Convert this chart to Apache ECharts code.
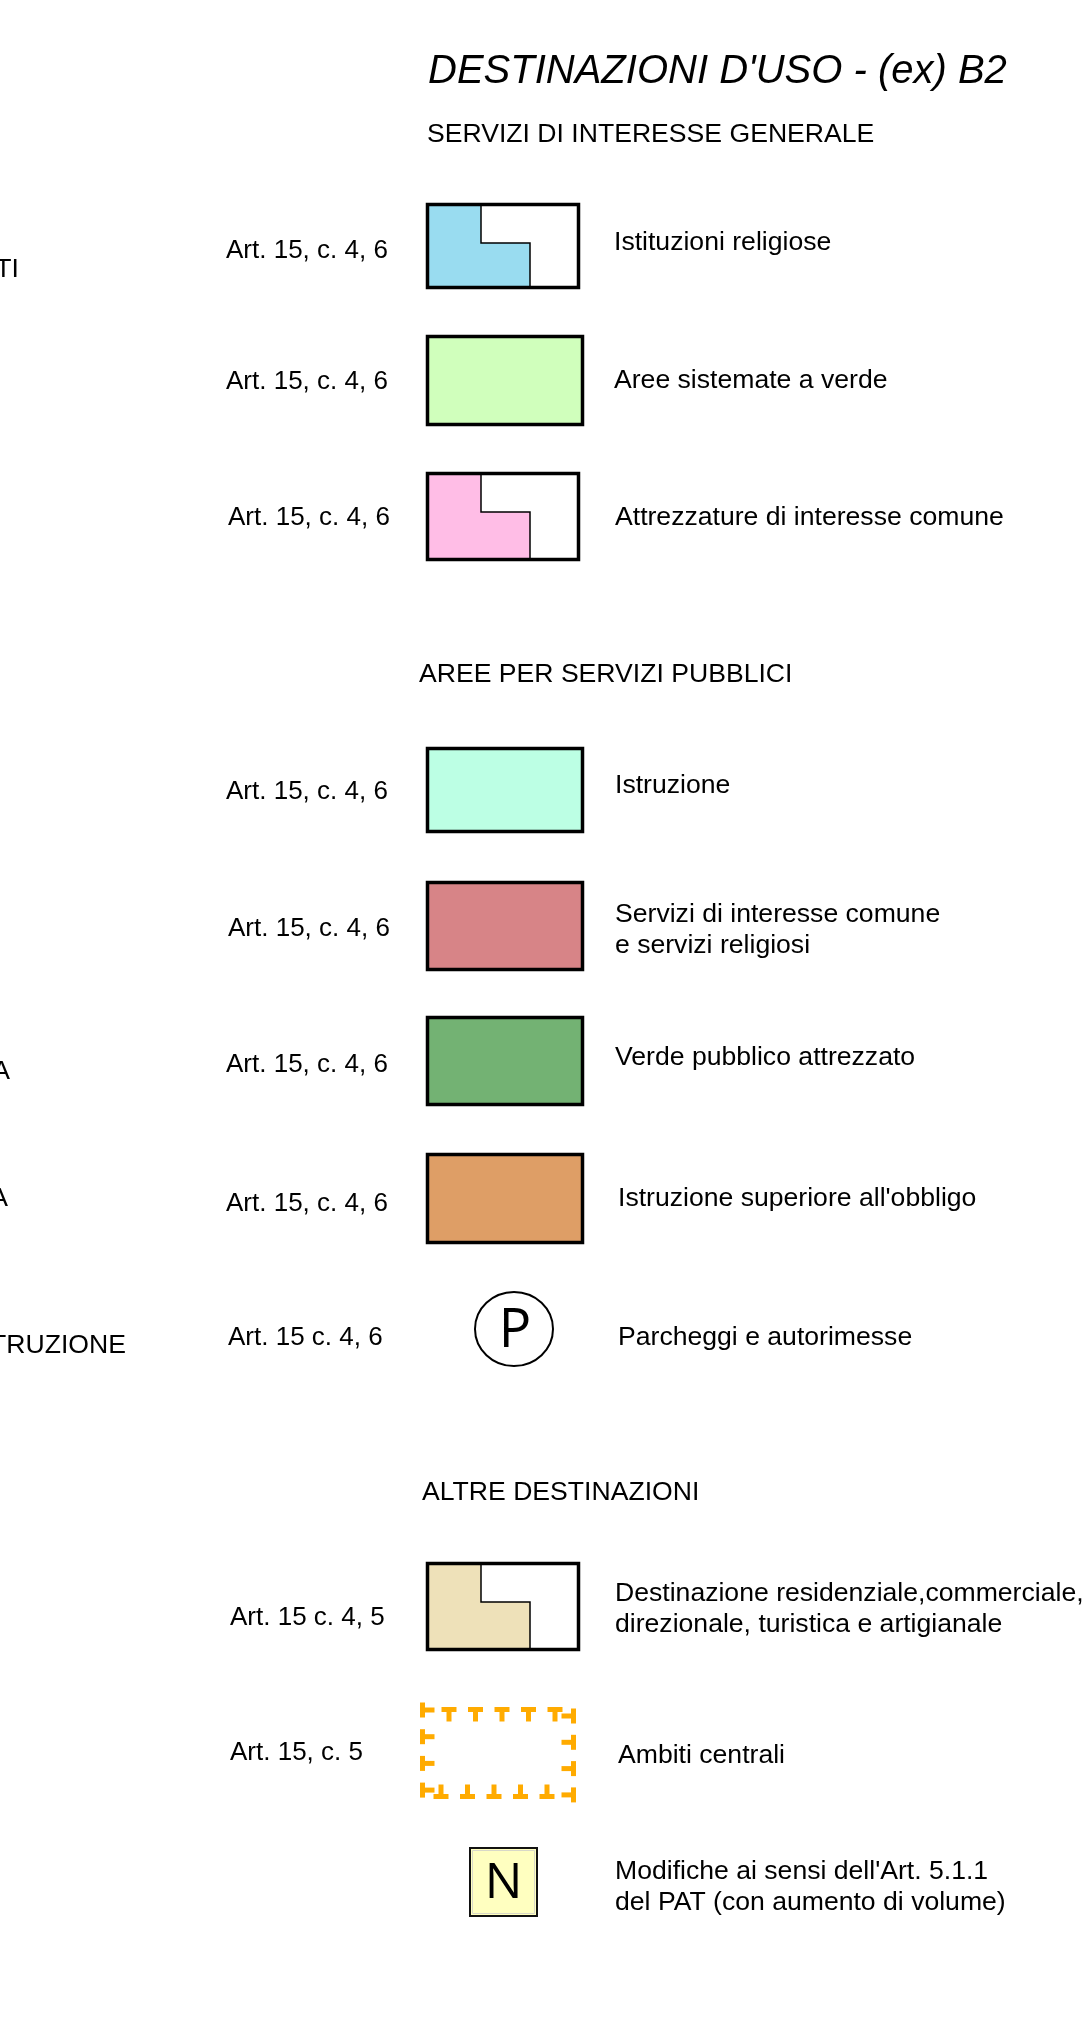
<!DOCTYPE html>
<html>
<head>
<meta charset="utf-8">
<title>Destinazioni d'uso</title>
<style>
  html, body { margin: 0; padding: 0; background: #fff; }
  #container { width: 1082px; height: 2023px; }
</style>
</head>
<body>
<div id="container"></div>
<script src="https://cdn.jsdelivr.net/npm/echarts@6/dist/echarts.min.js"></script>
<script>
// legend content
var titleText = "DESTINAZIONI D'USO - (ex) B2";
var sectionTitles = ['SERVIZI DI INTERESSE GENERALE', 'AREE PER SERVIZI PUBBLICI', 'ALTRE DESTINAZIONI'];
var articleRefs = [
  'Art. 15, c. 4, 6', 'Art. 15, c. 4, 6', 'Art. 15, c. 4, 6',
  'Art. 15, c. 4, 6', 'Art. 15, c. 4, 6', 'Art. 15, c. 4, 6', 'Art. 15, c. 4, 6', 'Art. 15 c. 4, 6',
  'Art. 15 c. 4, 5', 'Art. 15, c. 5', ''
];
var useLabels = [
  'Istituzioni religiose',
  'Aree sistemate a verde',
  'Attrezzature di interesse comune',
  'Istruzione',
  'Servizi di interesse comune\ne servizi religiosi',
  'Verde pubblico attrezzato',
  "Istruzione superiore all'obbligo",
  'Parcheggi e autorimesse',
  'Destinazione residenziale,commerciale,\ndirezionale, turistica e artigianale',
  'Ambiti centrali',
  "Modifiche ai sensi dell'Art. 5.1.1\ndel PAT (con aumento di volume)"
];
var symbolKinds = ['step', 'rect', 'step', 'rect', 'rect', 'rect', 'rect', 'parking', 'step', 'ambit', 'note'];
var symbolMarks = ['', '', '', '', '', '', '', 'P', '', '', 'N'];
// text cut off at the left edge (neighbouring column)
var edgeTexts = ['TI', 'A', 'A', 'ISTRUZIONE'];

// styles
var fillColors = ['#99dcf0', '#d0ffbc', '#ffbde6', '#bcffe4', '#d78487', '#73b273', '#de9e66', null, '#eee1b9', '#ffab00', '#ffffc0'];

// layout (pixels)
var sectionPos = [[427, 135], [419, 675], [422, 1493]];
var rowLayout = [
  { x: 426, top: 203, w: 154, h: 86, lx: 226, ly: 251, dx: 614, dy: 243 },
  { x: 426, top: 335, w: 158, h: 91, lx: 226, ly: 382, dx: 614, dy: 381 },
  { x: 426, top: 472, w: 154, h: 89, lx: 228, ly: 518, dx: 615, dy: 518 },
  { x: 426, top: 747, w: 158, h: 86, lx: 226, ly: 792, dx: 615, dy: 786 },
  { x: 426, top: 881, w: 158, h: 90, lx: 228, ly: 929, dx: 615, dy: 930 },
  { x: 426, top: 1016, w: 158, h: 90, lx: 226, ly: 1065, dx: 615, dy: 1058 },
  { x: 426, top: 1153, w: 158, h: 91, lx: 226, ly: 1204, dx: 618, dy: 1199 },
  { x: 475, top: 1292, w: 78, h: 74, lx: 228, ly: 1338, dx: 618, dy: 1338 },
  { x: 426, top: 1562, w: 154, h: 89, lx: 230, ly: 1618, dx: 615, dy: 1609 },
  { x: 420, top: 1703, w: 156, h: 96, lx: 230, ly: 1753, dx: 618, dy: 1756 },
  { x: 469, top: 1847, w: 69, h: 70, lx: 0, ly: 0, dx: 615, dy: 1887 }
];
var edgePos = [[19, 270], [10, 1072], [8, 1199], [126, 1346]];

var FONT = '"Liberation Sans", Arial, sans-serif';
var els = [];

function txt(x, y, s, extra) {
  els.push({
    type: 'text', x: x, y: y, silent: true,
    style: Object.assign({
      text: s, font: '26.6px ' + FONT, fill: '#000',
      align: 'left', verticalAlign: 'middle', lineHeight: 31
    }, extra || {})
  });
}

function box(x, y, w, h, fill, stroke, lw) {
  els.push({
    type: 'rect', shape: { x: x, y: y, width: w, height: h },
    style: { fill: fill, stroke: stroke, lineWidth: lw, lineJoin: 'miter' }
  });
}

// T shaped mark: (cx, cy) centre of the bar, stem points to dir
function tee(cx, cy, dir, color) {
  var L = 15, t = 5, s = 12, bar, stem;
  if (dir === 'down' || dir === 'up') {
    bar = [cx - L / 2, cy - t / 2, L, t];
    stem = [cx - t / 2, dir === 'down' ? cy : cy - s, t, s];
  } else {
    bar = [cx - t / 2, cy - L / 2, t, L];
    stem = [dir === 'right' ? cx : cx - s, cy - t / 2, s, t];
  }
  [bar, stem].forEach(function (r) {
    els.push({ type: 'rect', shape: { x: r[0], y: r[1], width: r[2], height: r[3] }, style: { fill: color } });
  });
}

function drawSymbol(i, r) {
  var kind = symbolKinds[i], c = fillColors[i];
  var x0 = r.x, y0 = r.top, x1 = r.x + r.w, y1 = r.top + r.h;
  if (kind === 'rect') {
    box(x0 + 1.5, y0 + 1.5, r.w - 3, r.h - 3, c, '#000', 3.5);
  } else if (kind === 'step') {
    var xa = x0 + 55, xb = x0 + 104, ys = y0 + 40;
    els.push({
      type: 'polygon',
      shape: { points: [[x0, y0], [xa, y0], [xa, ys], [xb, ys], [xb, y1], [x0, y1]] },
      style: { fill: c }
    });
    els.push({
      type: 'polyline',
      shape: { points: [[xa, y0], [xa, ys], [xb, ys], [xb, y1]] },
      style: { stroke: '#000', lineWidth: 1.5, fill: null }
    });
    box(x0 + 1.5, y0 + 1.5, r.w - 3, r.h - 3, 'none', '#000', 3.5);
  } else if (kind === 'parking') {
    els.push({
      type: 'ellipse',
      shape: { cx: (x0 + x1) / 2, cy: (y0 + y1) / 2, rx: r.w / 2, ry: r.h / 2 },
      style: { fill: 'none', stroke: '#000', lineWidth: 2 }
    });
    txt((x0 + x1) / 2 + 1, (y0 + y1) / 2 + 3, symbolMarks[i],
      { font: '54px "Open Sans", "DejaVu Sans", sans-serif', align: 'center' });
  } else if (kind === 'note') {
    box(x0 + 1, y0 + 1, r.w - 2, r.h - 2, c, '#111', 2);
    box(x0 + 3.5, y0 + 3.5, r.w - 7, r.h - 7, 'none', '#d8d8c8', 1);
    txt((x0 + x1) / 2, (y0 + y1) / 2 + 2, symbolMarks[i],
      { font: '50px "Open Sans", "DejaVu Sans", sans-serif', align: 'center' });
  } else if (kind === 'ambit') {
    var k;
    for (k = 0; k < 4; k++) tee(x0 + 2.5, y0 + 7 + k * 26.7, 'right', c);
    for (k = 0; k < 5; k++) tee(x0 + 29 + k * 26.5, y0 + 6.5, 'down', c);
    for (k = 0; k < 4; k++) tee(x1 - 2.5, y0 + 13 + k * 26.3, 'left', c);
    for (k = 0; k < 5; k++) tee(x0 + 21 + k * 26.5, y1 - 2.5, 'up', c);
  }
}

txt(428, 72, titleText, { font: 'italic 40px ' + FONT });
sectionTitles.forEach(function (s, i) {
  txt(sectionPos[i][0], sectionPos[i][1], s);
});
edgeTexts.forEach(function (s, i) {
  txt(edgePos[i][0], edgePos[i][1], s, { align: 'right' });
});
rowLayout.forEach(function (r, i) {
  drawSymbol(i, r);
  if (articleRefs[i]) txt(r.lx, r.ly, articleRefs[i], { font: '26px ' + FONT });
  txt(r.dx, r.dy, useLabels[i]);
});

var myChart = echarts.init(document.getElementById('container'), null, { renderer: 'canvas' });
myChart.setOption({
  backgroundColor: '#fff',
  animation: false,
  graphic: { elements: els }
});
</script>
</body>
</html>
